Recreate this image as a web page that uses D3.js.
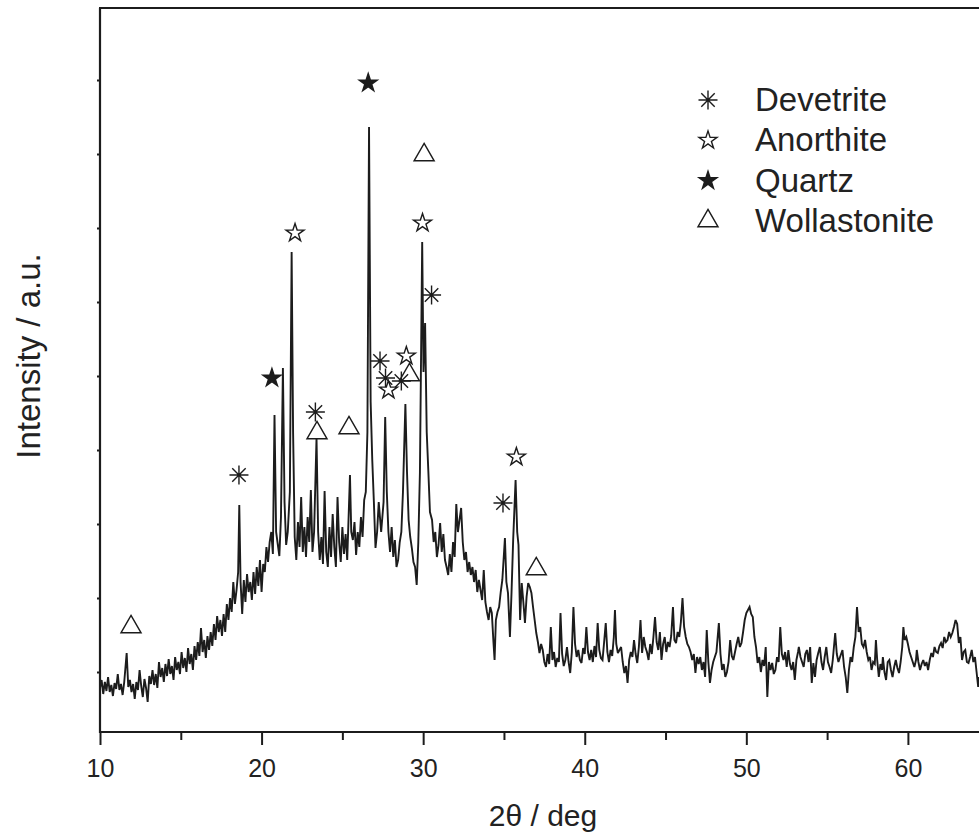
<!DOCTYPE html>
<html>
<head>
<meta charset="utf-8">
<script src="https://cdn.jsdelivr.net/npm/d3@7/dist/d3.min.js"></script>
<style>
  html, body { margin: 0; padding: 0; background: #ffffff; }
  svg { display: block; }
  text { font-family: "Liberation Sans", Arial, sans-serif; fill: #222; }
</style>
</head>
<body>
<svg id="chart" width="979" height="836"></svg>
<script>
// ---------------- DATA ----------------
// XRD scan, [2theta (deg), intensity (a.u.)]
const scan10to20 = [
  [10.00,44],[10.10,52],[10.20,38],[10.30,50],[10.40,41],[10.50,55],[10.60,40],[10.70,47],[10.80,36],[10.90,49],
  [11.00,43],[11.10,58],[11.20,42],[11.30,48],[11.40,37],[11.50,50],[11.65,79],[11.75,45],[11.85,52],[11.95,40],
  [12.05,48],[12.15,33],[12.25,50],[12.35,42],[12.45,62],[12.55,46],[12.65,35],[12.75,53],[12.85,44],[12.95,30],
  [13.05,56],[13.15,48],[13.25,62],[13.35,47],[13.45,58],[13.55,44],[13.65,70],[13.75,55],[13.85,64],[13.95,50],
  [14.05,68],[14.15,56],[14.25,73],[14.35,58],[14.45,66],[14.55,52],[14.65,75],[14.75,62],[14.85,70],[14.95,58],
  [15.05,80],[15.15,64],[15.25,74],[15.35,60],[15.45,84],[15.55,68],[15.65,78],[15.75,62],[15.85,86],[15.95,72],
  [16.05,90],[16.15,76],[16.25,104],[16.35,80],[16.45,92],[16.55,74],[16.65,96],[16.75,82],[16.85,100],[16.95,86],
  [17.05,108],[17.15,92],[17.25,116],[17.35,100],[17.45,112],[17.55,96],[17.65,118],[17.75,100],[17.85,128],[17.95,112],
  [18.05,134],[18.15,120],[18.25,150],[18.35,128],[18.45,142],[18.55,160],[18.62,227],[18.70,150],[18.80,118],[18.90,152],
  [19.00,130],[19.10,158],[19.20,140],[19.30,150],[19.40,132],[19.50,160],[19.60,138],[19.70,165],[19.80,146],[19.90,172],
  [20.00,140],[20.10,168],[20.20,160],[20.30,185],[20.40,170],[20.50,190]
];
const scan20to30 = [
  [20.60,200],[20.70,178],[20.80,317],[20.90,200],[21.00,188],[21.10,176],[21.20,215],[21.32,364],[21.42,230],[21.52,187],
  [21.62,200],[21.75,240],[21.86,480],[21.95,300],[22.05,195],[22.15,172],[22.25,210],[22.35,185],[22.45,235],[22.55,180],
  [22.65,205],[22.75,175],[22.85,215],[22.95,190],[23.05,242],[23.15,180],[23.25,200],[23.40,294],[23.50,200],[23.60,172],
  [23.70,195],[23.80,168],[23.90,241],[24.00,180],[24.10,165],[24.20,205],[24.30,175],[24.40,218],[24.50,185],[24.60,165],
  [24.70,235],[24.80,190],[24.90,170],[25.00,205],[25.10,178],[25.20,198],[25.30,172],[25.47,257],[25.55,200],[25.65,192],
  [25.75,210],[25.85,177],[25.95,200],[26.05,185],[26.15,215],[26.25,195],[26.35,232],[26.45,240],[26.55,300],[26.65,605],
  [26.75,330],[26.85,272],[26.95,230],[27.05,184],[27.15,200],[27.25,230],[27.40,200],[27.55,230],[27.65,315],[27.75,240],
  [27.85,200],[27.95,180],[28.05,205],[28.15,175],[28.25,192],[28.35,165],[28.45,172],[28.55,190],[28.65,200],[28.75,240],
  [28.90,328],[29.00,260],[29.10,212],[29.20,195],[29.30,184],[29.40,170],[29.50,165],[29.60,147],[29.70,190],[29.80,260],
  [29.94,490],[30.02,360],[30.12,409],[30.22,300],[30.32,261],[30.42,220]
];
const scan30to40 = [
  [30.55,212],[30.65,190],[30.75,200],[30.85,175],[30.95,187],[31.05,209],[31.15,180],[31.25,198],[31.35,172],[31.45,165],
  [31.55,157],[31.65,178],[31.75,160],[31.85,190],[31.95,175],[32.05,228],[32.15,200],[32.25,212],[32.35,224],[32.45,190],
  [32.55,172],[32.65,180],[32.75,160],[32.85,170],[32.95,157],[33.05,165],[33.15,150],[33.25,162],[33.35,140],[33.45,152],
  [33.55,142],[33.65,132],[33.75,162],[33.85,130],[33.95,120],[34.05,112],[34.15,125],[34.25,119],[34.35,90],[34.42,72],
  [34.50,112],[34.60,120],[34.70,125],[34.80,140],[34.90,152],[35.06,194],[35.15,150],[35.25,139],[35.37,95],[35.47,140],
  [35.57,192],[35.72,252],[35.82,200],[35.90,187],[36.00,112],[36.10,149],[36.20,130],[36.30,109],[36.40,135],[36.50,149],
  [36.60,145],[36.70,139],[36.80,125],[36.90,112],[37.00,99],[37.10,90],[37.20,79],[37.30,88],[37.40,82],[37.50,70],
  [37.60,65],[37.70,78],[37.80,68],[37.90,105],[38.00,72],[38.10,80],[38.20,65],[38.30,74],[38.40,70],[38.50,119],
  [38.60,78],[38.70,66],[38.80,72],[38.90,85],[39.00,70],[39.10,59],[39.20,80],[39.30,125],[39.40,88],[39.50,75],
  [39.60,82],[39.70,72],[39.80,69],[39.90,84]
];
const scan40to50 = [
  [40.00,78],[40.10,105],[40.20,80],[40.30,72],[40.40,82],[40.50,70],[40.60,86],[40.70,75],[40.80,109],[40.90,82],
  [41.00,74],[41.10,72],[41.20,90],[41.30,109],[41.40,80],[41.50,70],[41.60,82],[41.70,76],[41.80,95],[41.87,122],
  [41.95,88],[42.05,79],[42.15,82],[42.25,85],[42.35,70],[42.45,59],[42.55,66],[42.65,49],[42.75,72],[42.85,80],
  [42.95,75],[43.05,92],[43.15,78],[43.25,69],[43.35,85],[43.45,112],[43.55,79],[43.65,95],[43.75,85],[43.85,80],
  [43.95,72],[44.05,88],[44.15,78],[44.25,95],[44.35,115],[44.45,90],[44.55,82],[44.65,100],[44.75,72],[44.85,88],
  [44.95,95],[45.05,80],[45.15,90],[45.25,85],[45.35,96],[45.46,125],[45.55,92],[45.65,89],[45.75,100],[45.85,95],
  [45.95,110],[46.05,134],[46.15,105],[46.25,95],[46.35,88],[46.45,85],[46.55,80],[46.65,72],[46.75,78],[46.85,59],
  [46.95,75],[47.05,68],[47.15,75],[47.25,62],[47.35,70],[47.45,55],[47.55,102],[47.65,70],[47.75,49],[47.85,62],
  [47.95,70],[48.05,75],[48.15,80],[48.30,109],[48.40,78],[48.50,62],[48.60,68],[48.70,55],[48.80,60],[48.90,70],
  [49.00,92],[49.10,76],[49.20,72],[49.30,80],[49.40,88],[49.50,95],[49.60,85],[49.70,89],[49.80,100],[49.90,112]
];
const scan50to64 = [
  [50.00,119],[50.10,122],[50.20,125],[50.30,118],[50.40,115],[50.50,95],[50.60,85],[50.70,69],[50.80,75],[50.90,60],
  [51.00,72],[51.10,66],[51.20,85],[51.30,35],[51.40,70],[51.50,62],[51.60,69],[51.70,58],[51.80,62],[51.90,75],
  [52.00,70],[52.10,105],[52.20,78],[52.30,72],[52.40,80],[52.50,65],[52.60,82],[52.70,68],[52.80,62],[52.90,70],
  [53.00,52],[53.10,72],[53.20,80],[53.25,85],[53.35,75],[53.45,70],[53.55,65],[53.65,78],[53.75,82],[53.85,70],
  [53.95,85],[54.05,49],[54.15,69],[54.25,55],[54.35,72],[54.45,79],[54.55,85],[54.65,70],[54.75,62],[54.85,75],
  [54.95,85],[55.05,70],[55.15,65],[55.25,59],[55.35,72],[55.50,99],[55.60,78],[55.70,70],[55.80,75],[55.95,82],
  [56.05,65],[56.15,55],[56.25,39],[56.35,62],[56.45,75],[56.55,70],[56.65,85],[56.75,95],[56.85,125],[56.95,100],
  [57.05,105],[57.15,88],[57.25,85],[57.35,92],[57.45,80],[57.55,72],[57.65,75],[57.75,62],[57.85,70],[57.95,68],
  [58.02,92],[58.10,72],[58.20,55],[58.30,68],[58.40,62],[58.45,75],[58.55,60],[58.65,52],[58.75,70],[58.85,72],
  [58.95,62],[59.05,55],[59.15,65],[59.25,72],[59.35,64],[59.45,59],[59.55,70],[59.65,85],[59.72,105],[59.80,92],
  [59.90,95],[60.00,88],[60.10,80],[60.20,75],[60.30,70],[60.40,65],[60.50,72],[60.55,82],[60.65,70],[60.75,62],
  [60.85,68],[60.95,72],[61.05,66],[61.15,70],[61.25,62],[61.35,72],[61.45,79],[61.55,75],[61.65,85],[61.75,80],
  [61.85,79],[61.95,86],[62.05,89],[62.15,84],[62.25,95],[62.35,90],[62.45,92],[62.55,100],[62.65,95],[62.75,99],
  [62.85,105],[62.95,112],[63.05,108],[63.15,89],[63.25,95],[63.35,72],[63.45,80],[63.55,82],[63.65,70],[63.75,69],
  [63.85,75],[63.95,82],[64.05,70],[64.15,75],[64.25,60],[64.35,45],[64.40,55]
];

// Phase identification marks, [2theta, intensity position of the symbol]
const devetriteMarks = [[18.6,257],[23.33,320],[27.33,371],[27.67,354],[28.65,351],[30.52,437],[34.94,229]];
const anorthiteMarks = [[22.07,499],[27.85,342],[28.96,376],[29.96,509],[35.77,275]];
const quartzMarks = [[20.64,354],[26.6,649]];
const wollastoniteMarks = [[11.92,105],[23.43,299],[25.41,304],[29.15,357],[30.06,577],[37.0,163]];

const legendPhases = ["Devetrite", "Anorthite", "Quartz", "Wollastonite"];

const xMajorTicks = [10, 20, 30, 40, 50, 60];
const xMinorTicks = [15, 25, 35, 45, 55];
const yTickValues = [60, 134, 208, 282, 356, 430, 504, 578, 652];

const xTitle = "2\u03B8 / deg";
const yTitle = "Intensity / a.u.";

// ---------------- CHART ----------------
const svg = d3.select("#chart");
const plotLeft = 100, plotRight = 979, plotTop = 8, plotBottom = 732;
const ink = "#1c1c1c";

const x = d3.scaleLinear().domain([10, 64.4]).range([plotLeft, plotRight]);
const y = d3.scaleLinear().domain([0, 724]).range([plotBottom, plotTop]);

const pattern = [].concat(scan10to20, scan20to30, scan30to40, scan40to50, scan50to64);

// trace
svg.append("path")
  .datum(pattern)
  .attr("fill", "none")
  .attr("stroke", ink)
  .attr("stroke-width", 1.9)
  .attr("stroke-linejoin", "miter")
  .attr("stroke-miterlimit", 3)
  .attr("d", d3.line().x(d => x(d[0])).y(d => y(d[1])));

// axes
const xAxisMajor = d3.axisBottom(x).tickValues(xMajorTicks).tickSize(13).tickPadding(14).tickFormat(d3.format("d"));
const xAxisMinor = d3.axisBottom(x).tickValues(xMinorTicks).tickSize(8).tickFormat("");
const gxMinor = svg.append("g").attr("transform", `translate(0,${plotBottom})`).call(xAxisMinor);
const gx = svg.append("g").attr("transform", `translate(0,${plotBottom})`).call(xAxisMajor);
[gx, gxMinor].forEach(g => {
  g.select(".domain").remove();
  g.selectAll(".tick line").attr("stroke", ink).attr("stroke-width", 2);
});
gx.selectAll(".tick text")
  .style("font-family", "'Liberation Sans', Arial, sans-serif")
  .style("font-size", "25px")
  .attr("fill", "#2a2a2a");

const gy = svg.append("g").attr("transform", `translate(${plotLeft},0)`)
  .call(d3.axisLeft(y).tickValues(yTickValues).tickSize(3).tickFormat(""));
gy.select(".domain").remove();
gy.selectAll(".tick line").attr("stroke", ink).attr("stroke-width", 2);

// frame lines (left, bottom, top)
svg.append("line").attr("x1", plotLeft).attr("x2", plotLeft).attr("y1", plotTop).attr("y2", plotBottom + 1)
  .attr("stroke", ink).attr("stroke-width", 2.2);
svg.append("line").attr("x1", plotLeft - 1).attr("x2", plotRight).attr("y1", plotBottom).attr("y2", plotBottom)
  .attr("stroke", ink).attr("stroke-width", 2.2);
svg.append("line").attr("x1", plotLeft - 1).attr("x2", plotRight).attr("y1", plotTop).attr("y2", plotTop)
  .attr("stroke", ink).attr("stroke-width", 2.2);

// axis titles
svg.append("text")
  .attr("x", 543).attr("y", 826)
  .attr("text-anchor", "middle")
  .style("font-size", "30px")
  .text(xTitle);
svg.append("text")
  .attr("transform", "translate(40,356) rotate(-90)")
  .attr("text-anchor", "middle")
  .style("font-size", "33px")
  .text(yTitle);

// symbols
function asteriskPath(r) {
  const d = r * Math.SQRT1_2;
  return `M0,${-r}L0,${r}M${-r},0L${r},0M${-d},${-d}L${d},${d}M${-d},${d}L${d},${-d}`;
}
const starPath = d3.symbol(d3.symbolStar, 100)();
const trianglePath = d3.symbol(d3.symbolTriangle, 175)();

const phaseStyles = {
  "Devetrite":    { d: asteriskPath(9.5), fill: "none", marks: devetriteMarks },
  "Anorthite":    { d: starPath, fill: "#ffffff", marks: anorthiteMarks },
  "Quartz":       { d: starPath, fill: ink, marks: quartzMarks },
  "Wollastonite": { d: trianglePath, fill: "none", marks: wollastoniteMarks }
};

legendPhases.forEach(name => {
  const st = phaseStyles[name];
  svg.append("g").selectAll("path")
    .data(st.marks)
    .join("path")
    .attr("transform", d => `translate(${x(d[0])},${y(d[1])})`)
    .attr("d", st.d)
    .attr("fill", st.fill)
    .attr("stroke", ink)
    .attr("stroke-width", 1.4)
    .attr("stroke-linejoin", "miter");
});

// legend
const legend = svg.append("g");
const legendRowY = d3.scalePoint().domain(legendPhases).range([100, 221]);
legendPhases.forEach(name => {
  const st = phaseStyles[name];
  legend.append("path")
    .attr("transform", `translate(708,${legendRowY(name)})`)
    .attr("d", st.d)
    .attr("fill", st.fill)
    .attr("stroke", ink)
    .attr("stroke-width", 1.4);
  legend.append("text")
    .attr("x", 755).attr("y", legendRowY(name) + 11)
    .style("font-size", "33px")
    .text(name);
});
</script>
</body>
</html>
